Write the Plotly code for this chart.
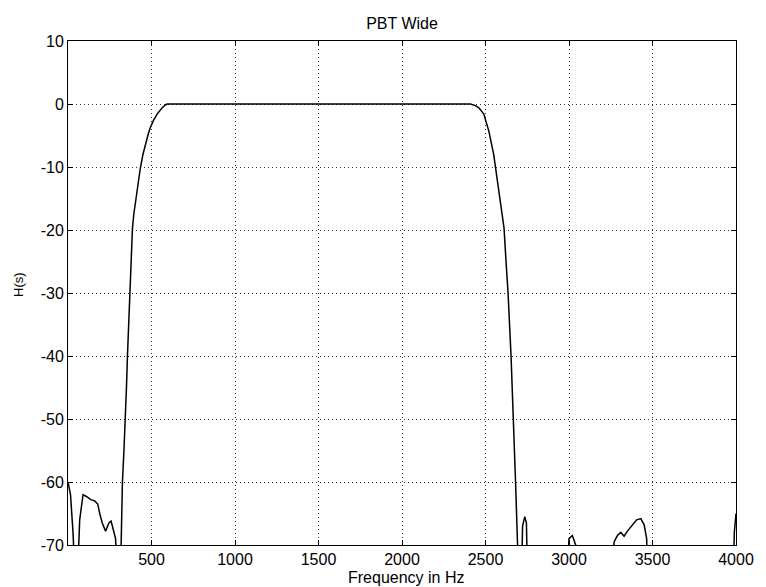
import plotly.graph_objects as go

# Frequency response of "PBT Wide" filter
freq_hz = [0, 15, 30, 40, 50, 70, 90, 110, 137, 160, 178, 190, 205, 225, 245, 258, 270, 285, 300, 310,
           318, 322, 326, 335, 344, 350, 356, 363, 371, 374, 380, 386, 394, 404, 418, 433, 448, 463, 478, 492,
           512, 534, 550, 564, 580, 593,
           1000, 1500, 2000, 2410, 2440, 2460, 2490, 2520, 2549, 2579, 2611, 2623, 2635, 2653, 2668, 2680, 2692,
           2702, 2712, 2722, 2735, 2745, 2755, 2980, 3000, 3020, 3040, 3050,
           3240, 3270, 3290, 3310, 3330, 3350, 3380, 3405, 3430, 3450, 3465, 3475, 3980, 3990, 4000]
h_db = [-60, -62, -68, -80, -80, -66, -62, -62.3, -62.8, -63, -63.5, -65, -66.5, -67.8, -66.5, -66.2, -67.3, -69, -80, -80,
        -70, -65, -60, -55, -50, -45, -40, -35, -30, -27.5, -24.4, -19.7, -17.5, -15.4, -12.6, -10.2, -8.1, -6.3, -5.0, -3.8,
        -2.6, -1.6, -1.0, -0.6, -0.2, 0,
        0, 0, 0, 0, -0.25, -0.6, -1.6, -4.3, -8, -13.3, -19.7, -25, -30, -40, -50, -60, -70,
        -80, -80, -67, -65.5, -66.5, -80, -80, -69, -68.5, -70, -80,
        -80, -69.5, -68.5, -68, -68.6, -67.8, -66.8, -66.0, -65.8, -66.8, -69, -80, -80, -68, -65]

x_ticks = [500, 1000, 1500, 2000, 2500, 3000, 3500, 4000]
y_ticks = [10, 0, -10, -20, -30, -40, -50, -60, -70]

title_text = "PBT Wide"
x_title = "Frequency in Hz"
y_title = "H(s)"

FAM = "Liberation Sans, Arial, sans-serif"

fig = go.Figure()
fig.add_trace(go.Scatter(x=freq_hz, y=h_db, mode="lines",
                         line=dict(color="black", width=1.5), showlegend=False))

tick_font = dict(family=FAM, size=16, color="black")

fig.update_layout(
    width=766, height=587,
    margin=dict(l=68, r=24, t=41, b=42),
    paper_bgcolor="white", plot_bgcolor="white",
    font=tick_font,
    title=dict(text=title_text, x=0.5, xref="paper", xanchor="center", y=1, yref="paper",
               yanchor="bottom", pad=dict(b=12),
               font=dict(family=FAM, size=16, color="black")),
    annotations=[
        dict(text=x_title, xref="paper", yref="paper", x=0.5, y=0, xanchor="center",
             yanchor="middle", xshift=4, yshift=-32, showarrow=False,
             font=dict(family=FAM, size=16, color="black")),
        dict(text=y_title, xref="paper", yref="paper", x=0, y=0.5, xanchor="center",
             yanchor="middle", xshift=-50, yshift=8, textangle=-90, showarrow=False,
             font=dict(family=FAM, size=13, color="black")),
    ],
)
fig.update_xaxes(range=[0, 4000], tickvals=x_ticks, ticktext=[str(v) for v in x_ticks],
                 showline=True, linecolor="black", linewidth=1, mirror="ticks",
                 ticks="inside", ticklen=5, tickcolor="black",
                 showgrid=True, gridcolor="#333333", griddash="1px,3px", gridwidth=1,
                 zeroline=False, tickfont=tick_font)
fig.update_yaxes(range=[-70, 10], tickvals=y_ticks, ticktext=[str(v) for v in y_ticks],
                 showline=True, linecolor="black", linewidth=1, mirror="ticks",
                 ticks="inside", ticklen=5, tickcolor="black",
                 showgrid=True, gridcolor="#333333", griddash="1px,3px", gridwidth=1,
                 zeroline=False, tickfont=tick_font)

fig.write_html("out.html")
